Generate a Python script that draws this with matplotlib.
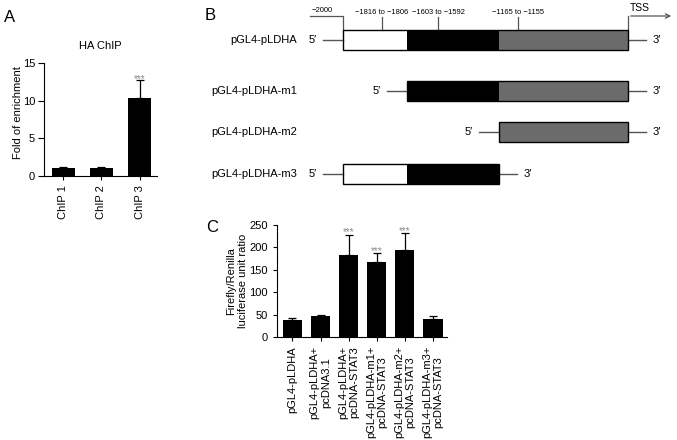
import numpy as np
import matplotlib.pyplot as plt
from matplotlib.patches import Rectangle

plt.rcParams['font.family'] = ['Liberation Sans', 'DejaVu Sans']
plt.rcParams['font.size'] = 8

# --- Panel A data ---
chip_labels = ["ChIP 1", "ChIP 2", "ChIP 3"]
chip_values = [1.1, 1.05, 10.3]
chip_errors = [0.12, 0.08, 2.5]
chip_stars = ["", "", "***"]

# --- Panel B data (schematic units, 0 = -2000) ---
segment_edges = [0, 64, 156, 285]
segment_colors = ["white", "black", "#6b6b6b"]
construct_names = ["pGL4-pLDHA", "pGL4-pLDHA-m1", "pGL4-pLDHA-m2", "pGL4-pLDHA-m3"]
construct_segments = [[0, 1, 2], [1, 2], [2], [0, 1]]
site_positions = [39, 95, 175]
site_labels = ["\u22121816 to \u22121806", "\u22121603 to \u22121592", "\u22121165 to \u22121155"]

# --- Panel C data ---
luc_labels = ["pGL4-pLDHA", "pGL4-pLDHA+\npcDNA3.1", "pGL4-pLDHA+\npcDNA-STAT3",
              "pGL4-pLDHA-m1+\npcDNA-STAT3", "pGL4-pLDHA-m2+\npcDNA-STAT3",
              "pGL4-pLDHA-m3+\npcDNA-STAT3"]
luc_values = [38, 47, 182, 168, 194, 40]
luc_errors = [4, 2, 46, 19, 38, 6]
luc_stars = ["", "", "***", "***", "***", ""]

W, H = 677, 440
fig = plt.figure(figsize=(W / 100, H / 100), dpi=100)


def px_axes(left, top, right, bottom):
    return fig.add_axes([left / W, 1 - bottom / H, (right - left) / W, (bottom - top) / H])


def style_bar_axes(ax):
    for s in ["top", "right"]:
        ax.spines[s].set_visible(False)
    ax.tick_params(direction="out", length=3, width=0.8, labelsize=8)


def bar_panel(ax, labels, values, errors, stars, width, star_pad):
    x = np.arange(len(values))
    ax.bar(x, values, width=width, color="black", zorder=2)
    ax.errorbar(x, values, yerr=[np.zeros(len(errors)), errors], fmt="none",
                ecolor="black", elinewidth=0.9, capsize=3, capthick=0.9, zorder=1)
    for xi, v, e, s in zip(x, values, errors, stars):
        if s:
            ax.text(xi, v + e + star_pad, s, ha="center", va="bottom",
                    color="#8a8a8a", fontsize=7)
    ax.set_xticks(x)
    ax.set_xticklabels(labels, rotation=90, ha="center", va="top", multialignment="center")
    style_bar_axes(ax)


# --- Panel A ---
axA = px_axes(44, 63, 157, 176)
bar_panel(axA, chip_labels, chip_values, chip_errors, chip_stars, 0.6, -0.6)
axA.set_xlim(-0.5, 2.45)
axA.set_ylim(0, 15)
axA.set_yticks([0, 5, 10, 15])
axA.tick_params(axis="y", length=4, pad=2.5)
axA.set_ylabel("Fold of enrichment", fontsize=8)
axA.yaxis.set_label_coords(-0.19, 0.56)
axA.set_title("HA ChIP", fontsize=8, pad=10)
fig.text(10 / W, 1 - 17 / H, "A", fontsize=12, va="center", ha="center")

# --- Panel C ---
axC = px_axes(277, 225, 447, 337)
bar_panel(axC, luc_labels, luc_values, luc_errors, luc_stars, 0.68, -6)
axC.set_xlim(-0.55, 5.5)
axC.set_ylim(0, 250)
axC.set_yticks(np.arange(0, 251, 50))
axC.set_ylabel("Firefly/Renilla\nluciferase unit ratio", fontsize=8)
axC.yaxis.set_label_coords(-0.17, 0.5)
fig.text(212 / W, 1 - 227 / H, "C", fontsize=12, va="center", ha="center")

# --- Panel B (schematic) ---
axB = px_axes(200, 0, 677, 200)
x0 = 343 - 200
axB.set_xlim(-x0, 477 - x0)
axB.set_ylim(200, 0)
axB.axis("off")
fig.text(205 / W, 1 - 15 / H, "B", fontsize=12, va="center", ha="left")

row_y = [40, 91, 132, 174]
half_h = 10
line_col = "#555555"
for name, segs, y in zip(construct_names, construct_segments, row_y):
    start = segment_edges[segs[0]]
    end = segment_edges[segs[-1] + 1]
    for s in segs:
        axB.add_patch(Rectangle((segment_edges[s], y - half_h),
                                segment_edges[s + 1] - segment_edges[s], 2 * half_h,
                                facecolor=segment_colors[s], edgecolor="none", zorder=2))
    axB.add_patch(Rectangle((start, y - half_h), end - start, 2 * half_h,
                            facecolor="none", edgecolor="black", lw=1.0, zorder=3))
    axB.plot([start - 20, start], [y, y], color=line_col, lw=1.0)
    axB.plot([end, end + 18], [y, y], color=line_col, lw=1.0)
    axB.text(start - 26, y, "5\u2032", ha="right", va="center", fontsize=8)
    axB.text(end + 25, y, "3\u2032", ha="left", va="center", fontsize=8)
    axB.text(-46, y, name, ha="right", va="center", fontsize=8)

top = row_y[0] - half_h
bracket_y = 16
# -2000 bracket
axB.plot([-33, 0, 0], [bracket_y, bracket_y, top], color=line_col, lw=0.9)
axB.text(-21, 10, "\u22122000", ha="center", va="center", fontsize=5.5)
# TSS arrow
axB.plot([segment_edges[-1], segment_edges[-1]], [top, bracket_y], color=line_col, lw=0.9)
axB.annotate("", xy=(331, bracket_y), xytext=(segment_edges[-1], bracket_y),
             arrowprops=dict(arrowstyle="->", color=line_col, lw=0.9))
axB.text(segment_edges[-1] + 2, 8, "TSS", ha="left", va="center", fontsize=7.5)
# binding sites
for pos, lab in zip(site_positions, site_labels):
    axB.plot([pos, pos], [17, top], color=line_col, lw=0.9)
    axB.text(pos, 12.5, lab, ha="center", va="center", fontsize=5.4)

fig.savefig("out.png", dpi=100)
